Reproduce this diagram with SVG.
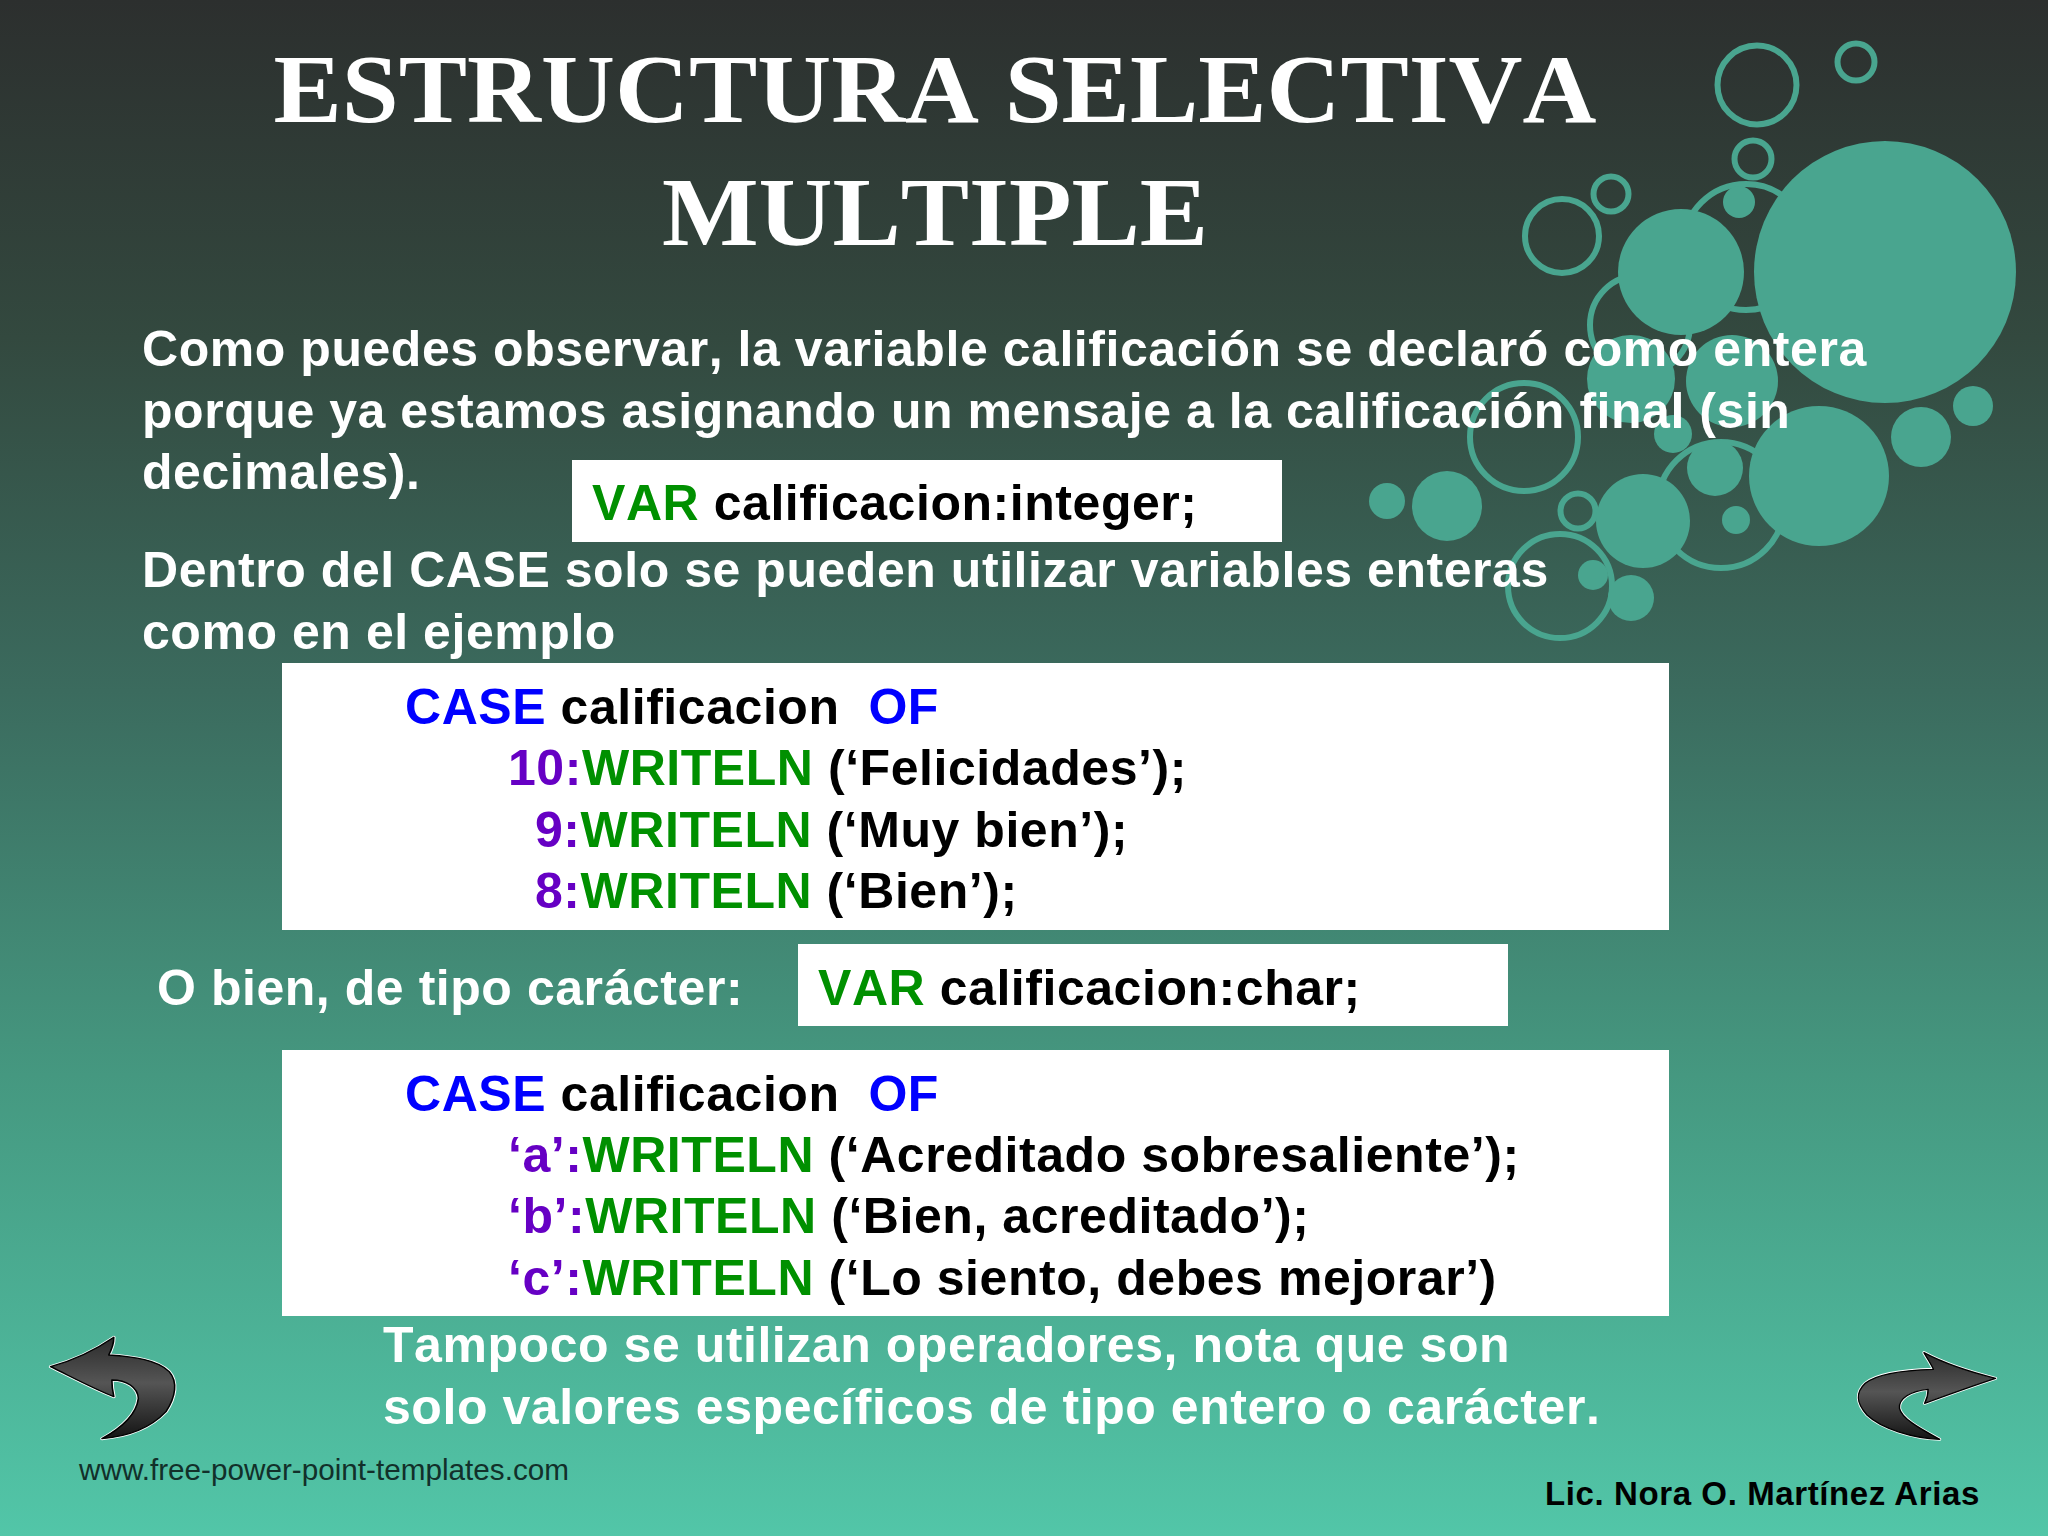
<svg xmlns="http://www.w3.org/2000/svg" width="2048" height="1536" viewBox="0 0 2048 1536">
<defs>
<linearGradient id="bg" x1="0" y1="0" x2="0" y2="1">
<stop offset="0" stop-color="#2c2f2e"/><stop offset="0.22" stop-color="#33493f"/><stop offset="0.45" stop-color="#3b6b5e"/><stop offset="0.7" stop-color="#459880"/><stop offset="1" stop-color="#52c6a8"/>
</linearGradient>
<linearGradient id="arrowfill" x1="0" y1="0" x2="0" y2="1"><stop offset="0" stop-color="#2b2b2b"/><stop offset="0.45" stop-color="#555"/><stop offset="1" stop-color="#141414"/></linearGradient>
<path id="arrow-l" d="M128,200 C175,185 235,155 288,112 C288,130 282,150 275,165 C340,170 400,180 428,215 C450,245 445,290 420,335 C380,385 320,410 258,416 C305,385 345,345 350,295 C348,262 320,240 283,240 C283,258 285,275 288,290 C235,265 180,230 128,200 Z"/>
<path id="arrow-r" d="M1418,175 C1360,160 1280,135 1213,98 C1225,120 1235,135 1240,148 C1170,150 1080,160 1045,190 C1015,220 1020,250 1050,285 C1090,325 1180,355 1258,358 C1220,335 1150,300 1143,265 C1140,235 1175,213 1225,208 C1225,225 1220,240 1215,250 C1280,225 1360,195 1418,175 Z"/>
</defs>
<style>
.w{font-family:"Liberation Sans",Arial,sans-serif;font-weight:700;font-size:50px;letter-spacing:.55px;font-kerning:none;fill:#fff;white-space:pre}
.c{font-family:"Liberation Sans",Arial,sans-serif;font-weight:700;font-size:50px;letter-spacing:.55px;font-kerning:none;fill:#000;white-space:pre}
.t{font-family:"Liberation Serif","Times New Roman",serif;font-weight:700;font-size:98px;font-kerning:none;fill:#fff;text-anchor:middle}
.b{fill:#0000ff}.g{fill:#009000}.p{fill:#6600c4}
.d{fill:#49a58f}.r{fill:none;stroke:#49a58f;stroke-width:6}
.box{fill:#fff}
.ao{stroke:#fff;stroke-width:9;stroke-linejoin:round}
.ai{fill:url(#arrowfill);stroke:#000;stroke-width:4;stroke-linejoin:round}
</style>
<rect id="background" width="2048" height="1536" fill="url(#bg)"/>
<g id="bubbles">
<circle class="r" cx="1757" cy="85" r="39.5"/><circle class="r" cx="1856" cy="62" r="18.5"/><circle class="r" cx="1753" cy="159" r="18.5"/>
<circle class="r" cx="1746" cy="247" r="63"/><circle class="r" cx="1562" cy="236" r="37"/><circle class="r" cx="1611" cy="194" r="17.5"/>
<circle class="r" cx="1640" cy="325" r="50"/><circle class="r" cx="1524" cy="437" r="54"/><circle class="r" cx="1578" cy="511" r="17.5"/>
<circle class="r" cx="1721" cy="505" r="63"/><circle class="r" cx="1560" cy="586" r="52"/>
<circle class="d" cx="1885" cy="272" r="131"/><circle class="d" cx="1681" cy="272" r="63"/><circle class="d" cx="1739" cy="202" r="16"/>
<circle class="d" cx="1631" cy="379" r="44"/><circle class="d" cx="1732" cy="381" r="46"/><circle class="d" cx="1673" cy="434" r="19"/>
<circle class="d" cx="1715" cy="468" r="28"/><circle class="d" cx="1819" cy="476" r="70"/><circle class="d" cx="1921" cy="437" r="30"/>
<circle class="d" cx="1973" cy="406" r="20"/><circle class="d" cx="1447" cy="506" r="35"/><circle class="d" cx="1387" cy="501" r="18"/>
<circle class="d" cx="1643" cy="521" r="47"/><circle class="d" cx="1736" cy="520" r="14"/><circle class="d" cx="1593" cy="575" r="15"/><circle class="d" cx="1631" cy="598" r="23"/>
</g>
<g id="title"><text class="t" transform="translate(935,122) scale(1.045,1)">ESTRUCTURA SELECTIVA</text><text class="t" transform="translate(935,245) scale(1.045,1)">MULTIPLE</text></g>
<g id="intro">
<text class="w" x="142" y="366">Como puedes observar, la variable calificación se declaró como entera</text>
<text class="w" x="142" y="428">porque ya estamos asignando un mensaje a la calificación final (sin</text>
<text class="w" x="142" y="489">decimales).</text>
<text class="w" x="142" y="587">Dentro del CASE solo se pueden utilizar variables enteras</text>
<text class="w" x="142" y="649">como en el ejemplo</text>
</g>
<g id="var-integer"><rect class="box" x="572" y="460" width="710" height="82"/><text class="c" x="592" y="520"><tspan class="g">VAR</tspan> calificacion:integer;</text></g>
<g id="case-integer"><rect class="box" x="282" y="663" width="1387" height="267"/>
<text class="c" x="405" y="724"><tspan class="b">CASE</tspan> calificacion  <tspan class="b">OF</tspan></text>
<text class="c" x="508" y="785"><tspan class="p">10:</tspan><tspan class="g">WRITELN</tspan> (‘Felicidades’);</text>
<text class="c" x="535" y="847"><tspan class="p">9:</tspan><tspan class="g">WRITELN</tspan> (‘Muy bien’);</text>
<text class="c" x="535" y="908"><tspan class="p">8:</tspan><tspan class="g">WRITELN</tspan> (‘Bien’);</text></g>
<g id="char-label"><text class="w" x="157" y="1005">O bien, de tipo carácter:</text></g>
<g id="var-char"><rect class="box" x="798" y="944" width="710" height="82"/><text class="c" x="818" y="1005"><tspan class="g">VAR</tspan> calificacion:char;</text></g>
<g id="case-char"><rect class="box" x="282" y="1050" width="1387" height="266"/>
<text class="c" x="405" y="1111"><tspan class="b">CASE</tspan> calificacion  <tspan class="b">OF</tspan></text>
<text class="c" x="508" y="1172"><tspan class="p">‘a’:</tspan><tspan class="g">WRITELN</tspan> (‘Acreditado sobresaliente’);</text>
<text class="c" x="508" y="1233"><tspan class="p">‘b’:</tspan><tspan class="g">WRITELN</tspan> (‘Bien, acreditado’);</text>
<text class="c" x="508" y="1295"><tspan class="p">‘c’:</tspan><tspan class="g">WRITELN</tspan> (‘Lo siento, debes mejorar’)</text></g>
<g id="closing"><text class="w" x="383" y="1362">Tampoco se utilizan operadores, nota que son</text><text class="w" x="383" y="1424">solo valores específicos de tipo entero o carácter.</text></g>
<g id="arrow-back" transform="translate(0,1300) scale(.3953,.3333)"><use href="#arrow-l" class="ao"/><use href="#arrow-l" class="ai"/></g>
<g id="arrow-next" transform="translate(1500,1320) scale(.3495,.3333)"><use href="#arrow-r" class="ao"/><use href="#arrow-r" class="ai"/></g>
<g id="footer"><text x="79" y="1480" font-family="'Liberation Sans',Arial,sans-serif" font-size="29.7" fill="#12302a">www.free-power-point-templates.com</text>
<text x="1545" y="1505" font-family="'Liberation Sans',Arial,sans-serif" font-weight="700" font-size="33" letter-spacing=".6" fill="#000">Lic. Nora O. Martínez Arias</text></g>
</svg>
